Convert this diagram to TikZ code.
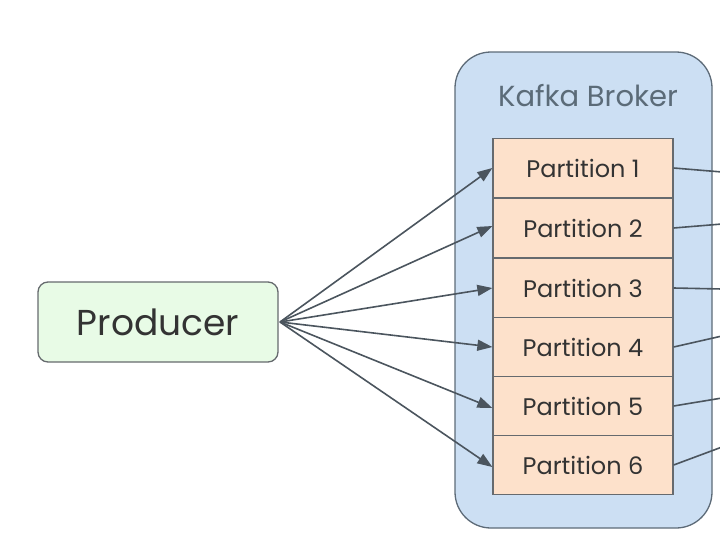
\documentclass[tikz,border=0pt]{standalone}
\usepackage{fontspec}
\setmainfont{Poppins}
\usetikzlibrary{arrows.meta}
\definecolor{prodfill}{HTML}{E8FBE6}
\definecolor{brokfill}{HTML}{CCDFF3}
\definecolor{partfill}{HTML}{FDE1CB}
\definecolor{edgegray}{HTML}{666A6E}
\definecolor{brokedge}{HTML}{5D6B78}
\definecolor{titlecol}{HTML}{5B6B78}
\definecolor{arrowcol}{HTML}{4B555E}
\definecolor{textcol}{HTML}{333333}
\tikzset{
  prodbox/.style={draw=edgegray, line width=1.3pt, fill=prodfill, rounded corners=10pt, minimum width=240pt, minimum height=80pt, inner sep=0pt, font=\fontsize{36}{40}\selectfont, text=textcol},
  brokbox/.style={draw=brokedge, line width=1.3pt, fill=brokfill, rounded corners=36pt},
  partbox/.style={draw=edgegray, line width=1.3pt, fill=partfill, minimum width=180pt, minimum height=59pt, inner sep=0pt, font=\fontsize{24}{28}\selectfont, text=textcol},
  conn/.style={draw=arrowcol, line width=1.6pt, -{Triangle[length=15pt,width=11pt]}},
  outline/.style={draw=arrowcol, line width=1.6pt}
}
\begin{document}
\begin{tikzpicture}[x=1pt,y=-1pt]
\useasboundingbox (0,0) rectangle (720,536);
\clip (0,0) rectangle (720,536);
\draw[brokbox] (455,52) rectangle (712,528);
\node[text=titlecol, font=\fontsize{29}{32}\selectfont] (title) at (588,96) {Kafka Broker};
\node[prodbox] (prod) at (158,322) {Producer};
\node[partbox] (p1) at (583,168) {Partition 1};
\node[partbox] (p2) at (583,228) {Partition 2};
\node[partbox] (p3) at (583,288) {Partition 3};
\node[partbox] (p4) at (583,347) {Partition 4};
\node[partbox] (p5) at (583,406) {Partition 5};
\node[partbox] (p6) at (583,465) {Partition 6};
\coordinate (src) at (280,322);
\coordinate (o1) at (722,172);
\coordinate (o2) at (722,224);
\coordinate (o3) at (722,289);
\coordinate (o4) at (722,336);
\coordinate (o5) at (722,398);
\coordinate (o6) at (722,447);
\draw[conn] (src) -- (p1.west);
\draw[conn] (src) -- ([yshift=2pt]p2.west);
\draw[conn] (src) -- (p3.west);
\draw[conn] (src) -- (p4.west);
\draw[conn] (src) -- ([yshift=-2pt]p5.west);
\draw[conn] (src) -- ([yshift=-2pt]p6.west);
\draw[outline] (p1.east) -- (o1);
\draw[outline] (p2.east) -- (o2);
\draw[outline] (p3.east) -- (o3);
\draw[outline] (p4.east) -- (o4);
\draw[outline] (p5.east) -- (o5);
\draw[outline] (p6.east) -- (o6);
\end{tikzpicture}
\end{document}
